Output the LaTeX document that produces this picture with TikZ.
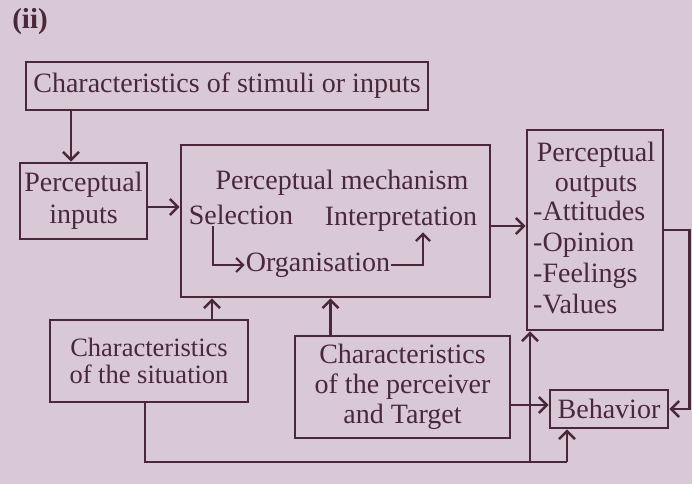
\documentclass[tikz,border=0pt]{standalone}
\usepackage{fontspec}
\setmainfont{Liberation Serif}
\usetikzlibrary{arrows.meta}
\definecolor{ink}{HTML}{4A2838}
\definecolor{paper}{HTML}{D9C9D6}
\begin{document}
\begin{tikzpicture}[x=1pt,y=-1pt,
  txt/.style={text=ink,font=\fontsize{28}{30}\selectfont,inner sep=1pt},
  box/.style={draw=ink,line width=2.7pt,text=ink,font=\fontsize{28}{30}\selectfont,align=center,inner sep=0pt},
  line/.style={draw=ink,line width=2.7pt},
  conn/.style={line,-{Straight Barb[length=8pt,width=16pt,line width=2.5pt]}},
  small/.style={draw=ink,line width=2.4pt,-{Straight Barb[length=7pt,width=14pt,line width=2.2pt]}}]
\useasboundingbox[fill=paper] (0,0) rectangle (692,484);
\node[text=ink,font=\fontsize{29}{30}\selectfont\bfseries] (ii) at (30,22) {(ii)};
\node[box,minimum width=402pt,minimum height=48pt] (stim) at (227,86) {Characteristics of stimuli or inputs};
\node[box,minimum width=127pt,minimum height=76pt,font=\fontsize{28}{32}\selectfont] (inp) at (83.5,201) {Perceptual\\inputs};
\node[box,minimum width=309pt,minimum height=152pt] (mech) at (335.5,221) {};
\node[txt] (mtitle) at (342,183) {Perceptual mechanism};
\node[txt] (sel) at (241,215) {Selection};
\node[txt] (interp) at (401,219) {Interpretation};
\node[txt] (org) at (318,265) {Organisation};
\node[box,minimum width=136pt,minimum height=200pt] (out) at (595,230) {};
\node[txt,align=center] (otitle) at (596,170) {Perceptual\\outputs};
\node[txt,align=left,anchor=north west,font=\fontsize{28}{31}\selectfont] (olist) at (532,200) {-Attitudes\\-Opinion\\-Feelings\\-Values};
\node[box,minimum width=118pt,minimum height=38pt] (beh) at (609,409) {Behavior};
\node[box,minimum width=198pt,minimum height=82pt,font=\fontsize{26.5}{27}\selectfont] (sit) at (149,361) {Characteristics\\of the situation};
\node[box,minimum width=215pt,minimum height=102pt] (perc) at (402.5,387) {Characteristics\\of the perceiver\\and Target};
% connectors
\draw[conn] ([xshift=-156pt]stim.south) -- ([xshift=-156pt]stim.south |- inp.north);
\draw[conn] ([yshift=-6pt]inp.east) -- ([yshift=-6pt]inp.east -| mech.west);
\draw[small] ([xshift=25pt]sel.south west) |- (org.west);
\draw[small] (org.east) -| ([xshift=22pt]interp.south);
\draw[conn] ([yshift=-5pt]mech.east) -- ([yshift=-5pt]mech.east -| out.west);
\draw[conn] (out.east) -- ++(25,0) |- (beh.east);
\draw[conn] ([xshift=63pt]sit.north) -- ([xshift=63pt]sit.north |- mech.south);
\draw[conn] ([xshift=-72pt]perc.north) -- ([xshift=-72pt]perc.north |- mech.south);
\draw[conn] ([yshift=4pt]beh.west -| perc.east) -- ([yshift=4pt]beh.west);
\coordinate (j1) at (145,462);
\coordinate (j2) at (530,462);
\coordinate (j3) at (567,462);
\draw[line] (sit.south -| j1) -- (j1) -- (j3);
\draw[conn] (j3) -- (j3 |- beh.south);
\draw[conn] (j2) -- (j2 |- out.south);
\end{tikzpicture}
\end{document}
